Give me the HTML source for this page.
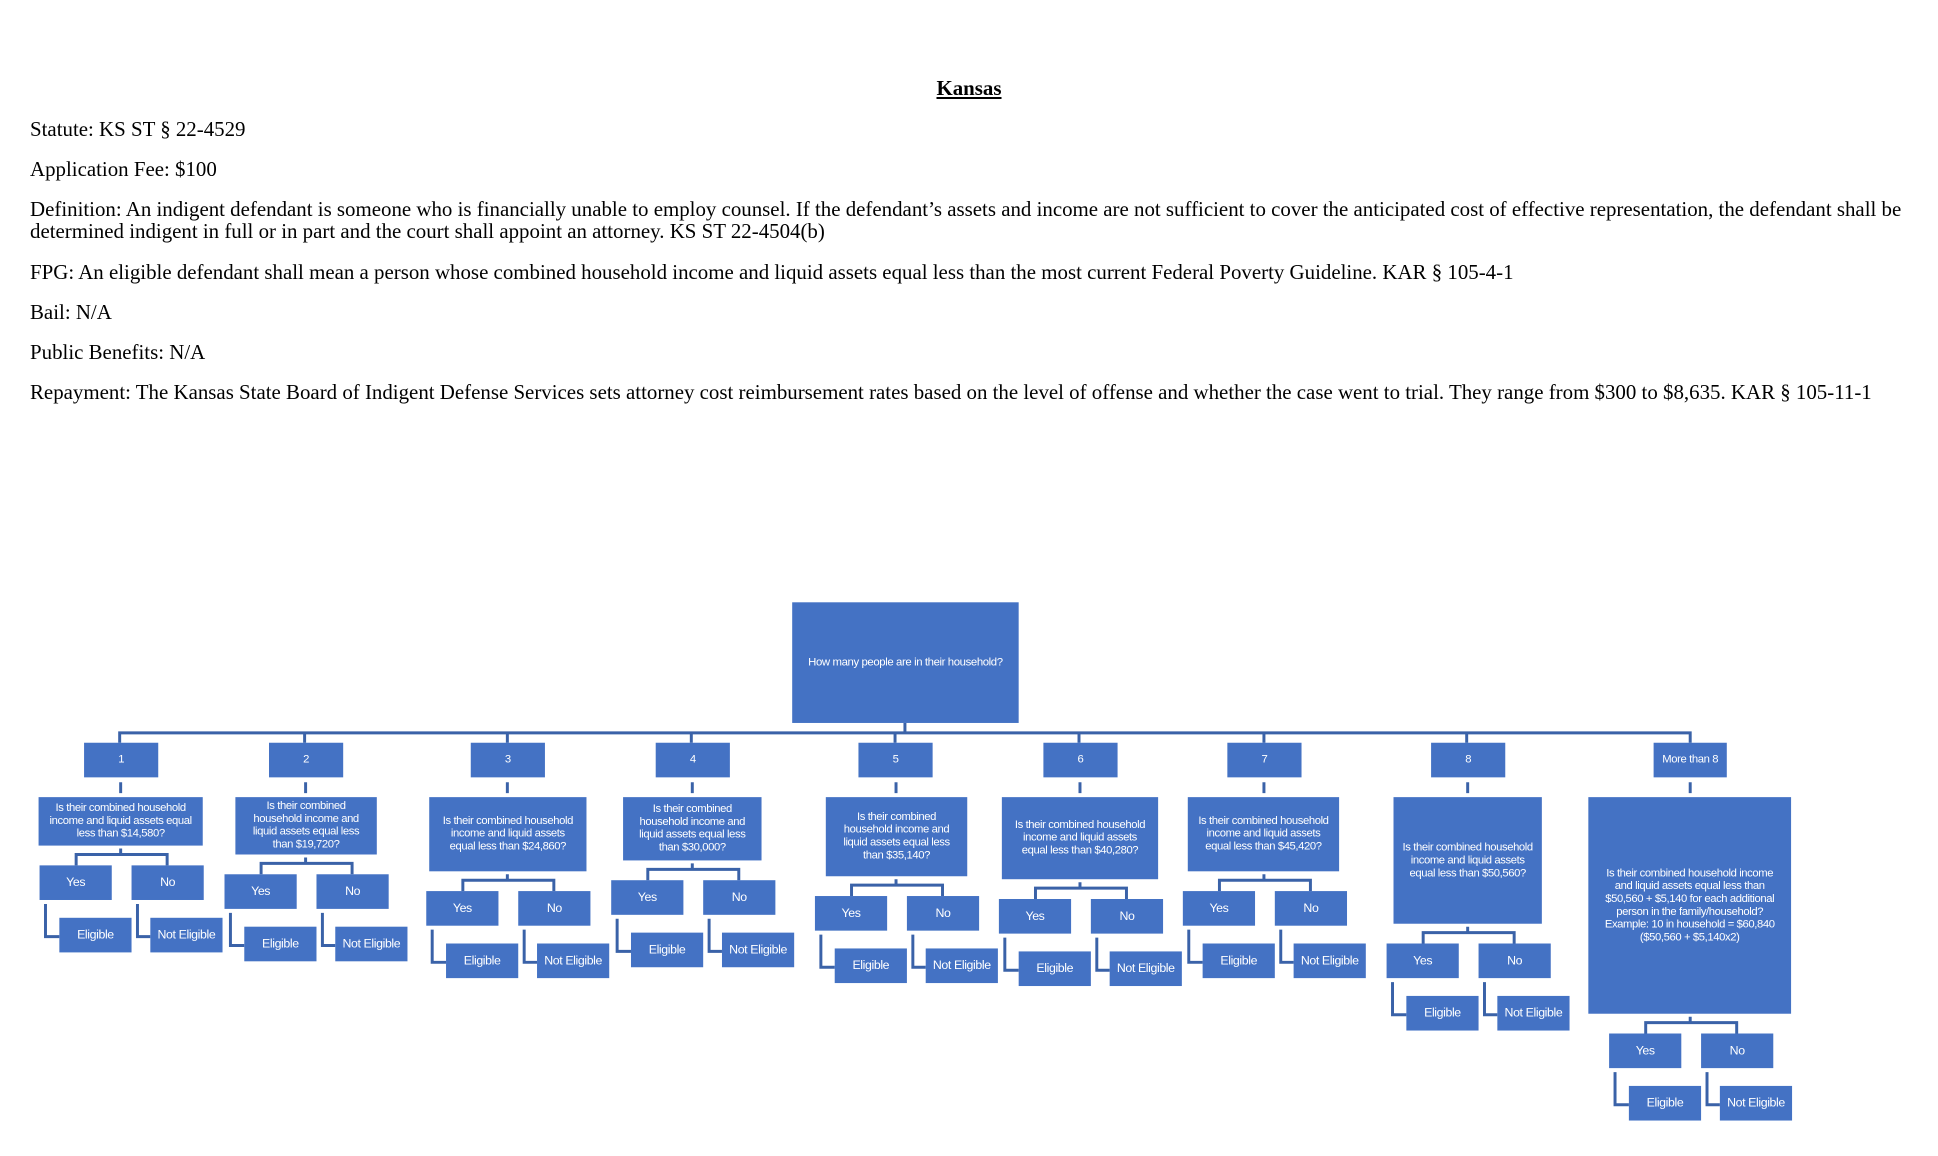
<!DOCTYPE html>
<html><head><meta charset="utf-8"><style>
body{margin:0;width:1938px;height:1156px;background:#fff;position:relative;overflow:hidden}
.t{position:absolute;left:30px;font-family:"Liberation Serif",serif;font-size:20.9px;color:#000;white-space:nowrap;line-height:22px}
#d{position:absolute;left:0;top:0;width:1938px;height:1156px;transform:scale(0.989);transform-origin:0 0}
.b{position:absolute;background:#4472C4;color:#fff;display:flex;align-items:center;justify-content:center;text-align:center;font-family:"Liberation Sans",sans-serif;font-size:11.4px;line-height:13px;letter-spacing:-0.4px;white-space:nowrap;overflow:visible}
.s{width:73px;height:35px;font-size:12.5px}
svg{position:absolute;left:0;top:0}
</style></head><body>
<div class="t" style="left:0;width:1938px;text-align:center;top:77px;font-weight:bold;"><span style="text-decoration:underline">Kansas</span></div>
<div class="t" style="top:118px">Statute: KS ST § 22-4529</div>
<div class="t" style="top:158px">Application Fee: $100</div>
<div class="t" style="top:198px;white-space:normal;width:1900px">Definition: An indigent defendant is someone who is financially unable to employ counsel. If the defendant’s assets and income are not sufficient to cover the anticipated cost of effective representation, the defendant shall be determined indigent in full or in part and the court shall appoint an attorney. KS ST 22-4504(b)</div>
<div class="t" style="top:261px">FPG: An eligible defendant shall mean a person whose combined household income and liquid assets equal less than the most current Federal Poverty Guideline. KAR § 105-4-1</div>
<div class="t" style="top:301px">Bail: N/A</div>
<div class="t" style="top:341px">Public Benefits: N/A</div>
<div class="t" style="top:381px">Repayment: The Kansas State Board of Indigent Defense Services sets attorney cost reimbursement rates based on the level of offense and whether the case went to trial. They range from $300 to $8,635. KAR § 105-11-1</div>

<div id="d">
<svg width="1938" height="1156" fill="none" stroke="#3A62A8" stroke-width="3">
<path d="M915 731V741M121 751V741H1709V751M308 741V751M513 741V751M699 741V751M905 741V751M1091 741V751M1278 741V751M1483 741V751"/>
<path d="M122 791V802M309 791V802M513 791V802M700 791V802M906 791V802M1092 791V802M1278 791V802M1484 791V802M1709 791V802"/>
<path d="M122 858V864M77 875V864H169V875M46 914V947H60M139 914V947H152"/>
<path d="M309 867V873M264 884V873H356V884M233 923V956H247M326 923V956H339"/>
<path d="M513 884V890M468 901V890H560V901M437 940V973H451M530 940V973H543"/>
<path d="M700 873V879M655 890V879H747V890M624 929V962H638M717 929V962H730"/>
<path d="M906 889V895M861 906V895H953V906M830 945V978H844M923 945V978H936"/>
<path d="M1092 892V898M1047 909V898H1139V909M1016 948V981H1030M1109 948V981H1122"/>
<path d="M1278 884V890M1233 901V890H1325V901M1202 940V973H1216M1295 940V973H1308"/>
<path d="M1484 937V943M1439 954V943H1531V954M1408 993V1026H1422M1501 993V1026H1514"/>
<path d="M1709 1028V1034M1664 1045V1034H1756V1045M1633 1084V1117H1647M1726 1084V1117H1739"/>
</svg>

<div class="b" style="left:801px;top:609px;width:229px;height:122px;font-size:11.5px">How many people are in their household?</div>

<div class="b" style="left:85px;top:751px;width:75px;height:35px">1</div>
<div class="b" style="left:272px;top:751px;width:75px;height:35px">2</div>
<div class="b" style="left:476px;top:751px;width:75px;height:35px">3</div>
<div class="b" style="left:663px;top:751px;width:75px;height:35px">4</div>
<div class="b" style="left:868px;top:751px;width:75px;height:35px">5</div>
<div class="b" style="left:1055px;top:751px;width:75px;height:35px">6</div>
<div class="b" style="left:1241px;top:751px;width:75px;height:35px">7</div>
<div class="b" style="left:1447px;top:751px;width:75px;height:35px">8</div>
<div class="b" style="left:1672px;top:751px;width:74px;height:35px">More than 8</div>

<div class="b" style="left:39px;top:806px;width:166px;height:49px">Is their combined household<br>income and liquid assets equal<br>less than $14,580?</div>
<div class="b" style="left:238px;top:806px;width:143px;height:58px">Is their combined<br>household income and<br>liquid assets equal less<br>than $19,720?</div>
<div class="b" style="left:434px;top:806px;width:159px;height:75px">Is their combined household<br>income and liquid assets<br>equal less than $24,860?</div>
<div class="b" style="left:630px;top:806px;width:140px;height:64px">Is their combined<br>household income and<br>liquid assets equal less<br>than $30,000?</div>
<div class="b" style="left:835px;top:806px;width:143px;height:80px">Is their combined<br>household income and<br>liquid assets equal less<br>than $35,140?</div>
<div class="b" style="left:1013px;top:806px;width:158px;height:83px">Is their combined household<br>income and liquid assets<br>equal less than $40,280?</div>
<div class="b" style="left:1201px;top:806px;width:153px;height:75px">Is their combined household<br>income and liquid assets<br>equal less than $45,420?</div>
<div class="b" style="left:1409px;top:806px;width:150px;height:128px">Is their combined household<br>income and liquid assets<br>equal less than $50,560?</div>
<div class="b" style="left:1606px;top:806px;width:205px;height:219px">Is their combined household income<br>and liquid assets equal less than<br>$50,560 + $5,140 for each additional<br>person in the family/household?<br>Example: 10 in household = $60,840<br>($50,560 + $5,140x2)</div>

<div class="b s" style="left:40px;top:875px">Yes</div><div class="b s" style="left:133px;top:875px">No</div>
<div class="b s" style="left:60px;top:928px">Eligible</div><div class="b s" style="left:152px;top:928px">Not Eligible</div>
<div class="b s" style="left:227px;top:884px">Yes</div><div class="b s" style="left:320px;top:884px">No</div>
<div class="b s" style="left:247px;top:937px">Eligible</div><div class="b s" style="left:339px;top:937px">Not Eligible</div>
<div class="b s" style="left:431px;top:901px">Yes</div><div class="b s" style="left:524px;top:901px">No</div>
<div class="b s" style="left:451px;top:954px">Eligible</div><div class="b s" style="left:543px;top:954px">Not Eligible</div>
<div class="b s" style="left:618px;top:890px">Yes</div><div class="b s" style="left:711px;top:890px">No</div>
<div class="b s" style="left:638px;top:943px">Eligible</div><div class="b s" style="left:730px;top:943px">Not Eligible</div>
<div class="b s" style="left:824px;top:906px">Yes</div><div class="b s" style="left:917px;top:906px">No</div>
<div class="b s" style="left:844px;top:959px">Eligible</div><div class="b s" style="left:936px;top:959px">Not Eligible</div>
<div class="b s" style="left:1010px;top:909px">Yes</div><div class="b s" style="left:1103px;top:909px">No</div>
<div class="b s" style="left:1030px;top:962px">Eligible</div><div class="b s" style="left:1122px;top:962px">Not Eligible</div>
<div class="b s" style="left:1196px;top:901px">Yes</div><div class="b s" style="left:1289px;top:901px">No</div>
<div class="b s" style="left:1216px;top:954px">Eligible</div><div class="b s" style="left:1308px;top:954px">Not Eligible</div>
<div class="b s" style="left:1402px;top:954px">Yes</div><div class="b s" style="left:1495px;top:954px">No</div>
<div class="b s" style="left:1422px;top:1007px">Eligible</div><div class="b s" style="left:1514px;top:1007px">Not Eligible</div>
<div class="b s" style="left:1627px;top:1045px">Yes</div><div class="b s" style="left:1720px;top:1045px">No</div>
<div class="b s" style="left:1647px;top:1098px">Eligible</div><div class="b s" style="left:1739px;top:1098px">Not Eligible</div>
</div>
</body></html>
